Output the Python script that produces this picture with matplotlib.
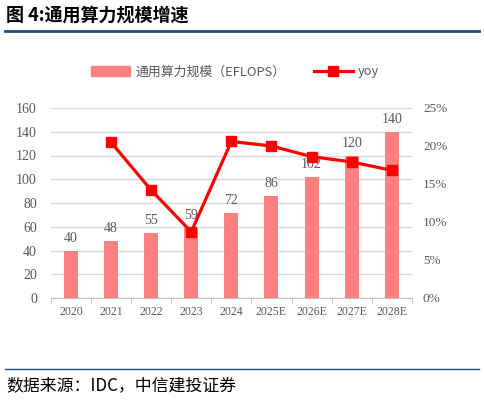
import matplotlib
matplotlib.use('Agg')
import matplotlib.pyplot as plt
import numpy as np
from matplotlib.lines import Line2D
from matplotlib.patches import Patch

plt.rcParams['font.family'] = ['Liberation Serif', 'Noto Sans CJK SC', 'DejaVu Sans']

# données
years = ['2020', '2021', '2022', '2023', '2024', '2025E', '2026E', '2027E', '2028E']
scale = [40, 48, 55, 59, 72, 86, 102, 120, 140]
yoy = [None, 20.5, 14.2, 8.7, 20.6, 20.0, 18.6, 17.9, 16.8]

gray = '#595959'
fig = plt.figure(figsize=(4.84, 4.0), dpi=100)
ax = fig.add_axes([0.105, 0.255, 0.746, 0.475])
x = np.arange(len(years))

ax.bar(x, scale, width=0.35, color='#FF8080', zorder=2)
for xi, v in zip(x, scale):
    ax.text(xi, v + 5, str(v), ha='center', va='bottom', fontsize=10, color=gray, zorder=5)

ax.set_xlim(-0.5, len(years) - 0.5)
ax.set_ylim(0, 160)
ax.set_yticks(range(0, 161, 20))
ax.set_xticks(x)
ax.set_xticklabels(years)
ax.set_xticks(np.arange(-0.5, len(years), 1), minor=True)
ax.tick_params(axis='x', which='major', length=0, colors=gray, labelsize=8.5, pad=6)
ax.tick_params(axis='x', which='minor', length=4, color='#BFBFBF', direction='out')
ax.tick_params(axis='y', length=0, colors=gray, labelsize=10, pad=10)
ax.grid(axis='y', color='#D9D9D9', linewidth=1, zorder=0)
for s in ['top', 'right', 'left']:
    ax.spines[s].set_visible(False)
ax.spines['bottom'].set_color('#BFBFBF')

ax2 = ax.twinx()
xs = [xi for xi, v in zip(x, yoy) if v is not None]
ys = [v for v in yoy if v is not None]
ax2.plot(xs, ys, color='#FF0000', linewidth=2.3, marker='s', markersize=7.5, zorder=4)
ax2.set_ylim(0, 25)
ax2.set_yticks(range(0, 26, 5))
ax2.set_yticklabels([f'{t}%' for t in range(0, 26, 5)])
ax2.tick_params(axis='y', length=0, colors=gray, labelsize=9.5, pad=8)
for s in ['top', 'right', 'left', 'bottom']:
    ax2.spines[s].set_visible(False)

handles = [Patch(color='#FF8080'),
           Line2D([0], [0], color='#FF0000', linewidth=2.3, marker='s', markersize=6.5)]
fig.legend(handles, ['通用算力规模（EFLOPS）', 'yoy'], loc='center', bbox_to_anchor=(0.486, 0.82),
           ncol=2, frameon=False, labelcolor=gray, handlelength=3.0, handletextpad=0.4,
           columnspacing=2.2, prop={'family': ['Noto Sans CJK SC'], 'size': 9.3})

fig.text(0.012, 0.962, '图 4:通用算力规模增速', fontsize=13, fontweight='bold',
         family=['Noto Sans CJK SC'], va='center', ha='left')
fig.add_artist(Line2D([0.01, 0.99], [0.922, 0.922], color='#1F4E79', linewidth=2))
fig.add_artist(Line2D([0.01, 0.99], [0.077, 0.077], color='#1F4E79', linewidth=1))
fig.text(0.014, 0.038, '数据来源：IDC，中信建投证券', fontsize=12.2, style='italic',
         family=['Noto Sans CJK SC'], va='center', ha='left')

fig.savefig('out.png', dpi=100)
